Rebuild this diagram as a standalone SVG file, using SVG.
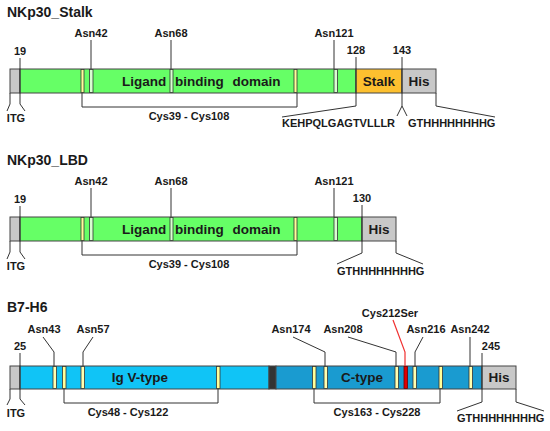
<svg xmlns="http://www.w3.org/2000/svg" width="550" height="431" viewBox="0 0 550 431">
<style>
text{font-family:"Liberation Sans",Arial,sans-serif;font-weight:bold;fill:#1a1a1a}
.t{font-size:14px}
.l{font-size:11px}
.d{font-size:13.5px}
.m{text-anchor:middle}
.seg{stroke:#444;stroke-width:1}
.ln{fill:none;stroke:#333;stroke-width:1}
.red{fill:none;stroke:#f03030;stroke-width:1.2}
.cys{fill:#ffff99;stroke:#333;stroke-width:0.8}
.asn{fill:#d8ffd0;stroke:#333;stroke-width:0.8}
.asnb{fill:#ffffb0;stroke:#333;stroke-width:0.8}
.mut{fill:#e00000;stroke:#700;stroke-width:0.8}
</style>
<rect width="550" height="431" fill="#fff"/>

<g id="nkp30-stalk">
  <text class="t" x="7" y="17">NKp30_Stalk</text>
  <rect class="seg" x="10" y="69" width="10" height="24" fill="#c8c8c8"/>
  <rect class="seg" x="20" y="69" width="336" height="24" fill="#66ff66"/>
  <rect class="seg" x="356" y="69" width="46" height="24" fill="#fdc02f"/>
  <rect class="seg" x="402" y="69" width="34" height="24" fill="#c8c8c8"/>
  <rect class="cys" x="81" y="69.5" width="3" height="23"/>
  <rect class="asn" x="89.5" y="69.5" width="3.5" height="23"/>
  <rect class="asn" x="170" y="69.5" width="3" height="23"/>
  <rect class="cys" x="294" y="69.5" width="3" height="23"/>
  <rect class="asn" x="334" y="69.5" width="3.5" height="23"/>
  <text class="d" x="122" y="86" word-spacing="5">Ligand binding domain</text>
  <text class="d m" x="379" y="86">Stalk</text>
  <text class="d m" x="419" y="86">His</text>
  <text class="l m" x="20" y="55">19</text>
  <text class="l m" x="91" y="37">Asn42</text>
  <text class="l m" x="171" y="37">Asn68</text>
  <text class="l m" x="334" y="37">Asn121</text>
  <text class="l m" x="356" y="54">128</text>
  <text class="l m" x="402" y="54">143</text>
  <text class="l m" x="189" y="120">Cys39 - Cys108</text>
  <text class="l m" x="16" y="122">ITG</text>
  <text class="l" x="282" y="127">KEHPQLGAGTVLLLR</text>
  <text class="l" x="408" y="127">GTHHHHHHHHG</text>
</g>

<g id="nkp30-lbd">
  <text class="t" x="7" y="165">NKp30_LBD</text>
  <rect class="seg" x="10" y="217" width="10" height="24" fill="#c8c8c8"/>
  <rect class="seg" x="20" y="217" width="342" height="24" fill="#66ff66"/>
  <rect class="seg" x="362" y="217" width="34" height="24" fill="#c8c8c8"/>
  <rect class="cys" x="81" y="217.5" width="3" height="23"/>
  <rect class="asn" x="89.5" y="217.5" width="3.5" height="23"/>
  <rect class="asn" x="170" y="217.5" width="3" height="23"/>
  <rect class="cys" x="294" y="217.5" width="3" height="23"/>
  <rect class="asn" x="334" y="217.5" width="3.5" height="23"/>
  <text class="d" x="122" y="234" word-spacing="5">Ligand binding domain</text>
  <text class="d m" x="379" y="234">His</text>
  <text class="l m" x="20" y="203">19</text>
  <text class="l m" x="91" y="185">Asn42</text>
  <text class="l m" x="171" y="185">Asn68</text>
  <text class="l m" x="334" y="185">Asn121</text>
  <text class="l m" x="362" y="202">130</text>
  <text class="l m" x="189" y="268">Cys39 - Cys108</text>
  <text class="l m" x="16" y="270">ITG</text>
  <text class="l" x="337" y="275">GTHHHHHHHHG</text>
</g>

<g id="b7-h6">
  <text class="t" x="7" y="312">B7-H6</text>
  <rect class="seg" x="10" y="366" width="10" height="23" fill="#c8c8c8"/>
  <rect class="seg" x="20" y="366" width="249" height="23" fill="#10c4f6"/>
  <rect class="seg" x="269" y="366" width="7" height="23" fill="#333"/>
  <rect class="seg" x="276" y="366" width="206" height="23" fill="#1a9bd0"/>
  <rect class="seg" x="482" y="366" width="34" height="23" fill="#c8c8c8"/>
  <rect class="asnb" x="53" y="366.5" width="3.5" height="22"/>
  <rect class="cys" x="62.5" y="366.5" width="3.5" height="22"/>
  <rect class="asnb" x="81" y="366.5" width="3.5" height="22"/>
  <rect class="cys" x="216.5" y="366.5" width="3.5" height="22"/>
  <rect class="cys" x="312.5" y="366.5" width="3.5" height="22"/>
  <rect class="asnb" x="324" y="366.5" width="3.5" height="22"/>
  <rect class="asnb" x="395" y="366.5" width="3.5" height="22"/>
  <rect class="mut" x="404" y="366.5" width="3.5" height="22"/>
  <rect class="asnb" x="413" y="366.5" width="3.5" height="22"/>
  <rect class="cys" x="439" y="366.5" width="3.5" height="22"/>
  <rect class="asnb" x="469" y="366.5" width="3.5" height="22"/>
  <text class="d m" x="140" y="382">Ig V-type</text>
  <text class="d m" x="362" y="382">C-type</text>
  <text class="d m" x="499" y="382">His</text>
  <text class="l m" x="20" y="350">25</text>
  <text class="l m" x="44" y="333">Asn43</text>
  <text class="l m" x="93" y="333">Asn57</text>
  <text class="l m" x="291" y="333">Asn174</text>
  <text class="l m" x="343" y="333">Asn208</text>
  <text class="l m" x="390" y="317">Cys212Ser</text>
  <text class="l m" x="426" y="333">Asn216</text>
  <text class="l m" x="470" y="333">Asn242</text>
  <text class="l m" x="491" y="350">245</text>
  <text class="l m" x="128" y="416">Cys48 - Cys122</text>
  <text class="l m" x="377" y="416">Cys163 - Cys228</text>
  <text class="l m" x="16" y="417">ITG</text>
  <text class="l" x="457" y="422">GTHHHHHHHHG</text>
</g>

<g id="connectors">
  <path class="ln" d="M10 93V104L7 111M20 58V104L25 111"/>
  <path class="ln" d="M91 40V69M171 40V69M334 40V69"/>
  <path class="ln" d="M82 93V107H297V93"/>
  <path class="ln" d="M356 57V106L282 117"/>
  <path class="ln" d="M402 57V106L397 116M402 106L407 116"/>
  <path class="ln" d="M436 93V106L495 117"/>

  <path class="ln" d="M10 241V252L7 259M20 206V252L25 259"/>
  <path class="ln" d="M91 188V217M171 188V217M334 188V217"/>
  <path class="ln" d="M82 241V255H297V241"/>
  <path class="ln" d="M362 205V253L337 264"/>
  <path class="ln" d="M396 241V253L423 264"/>

  <path class="ln" d="M10 389V399L7 405M20 353V399L25 405"/>
  <path class="ln" d="M43 337L54 352V366M93 337L83 352V366"/>
  <path class="ln" d="M64 389V403H218V389"/>
  <path class="ln" d="M314 389V403H440V389"/>
  <path class="ln" d="M293 337L325 352V366M348 337L396 352V366M423 337L415 352V366M470 337V366"/>
  <path class="red" d="M393 320L405 352V366"/>
  <path class="ln" d="M482 353V402L457 411"/>
  <path class="ln" d="M516 389V402L544 411"/>
</g>
</svg>
